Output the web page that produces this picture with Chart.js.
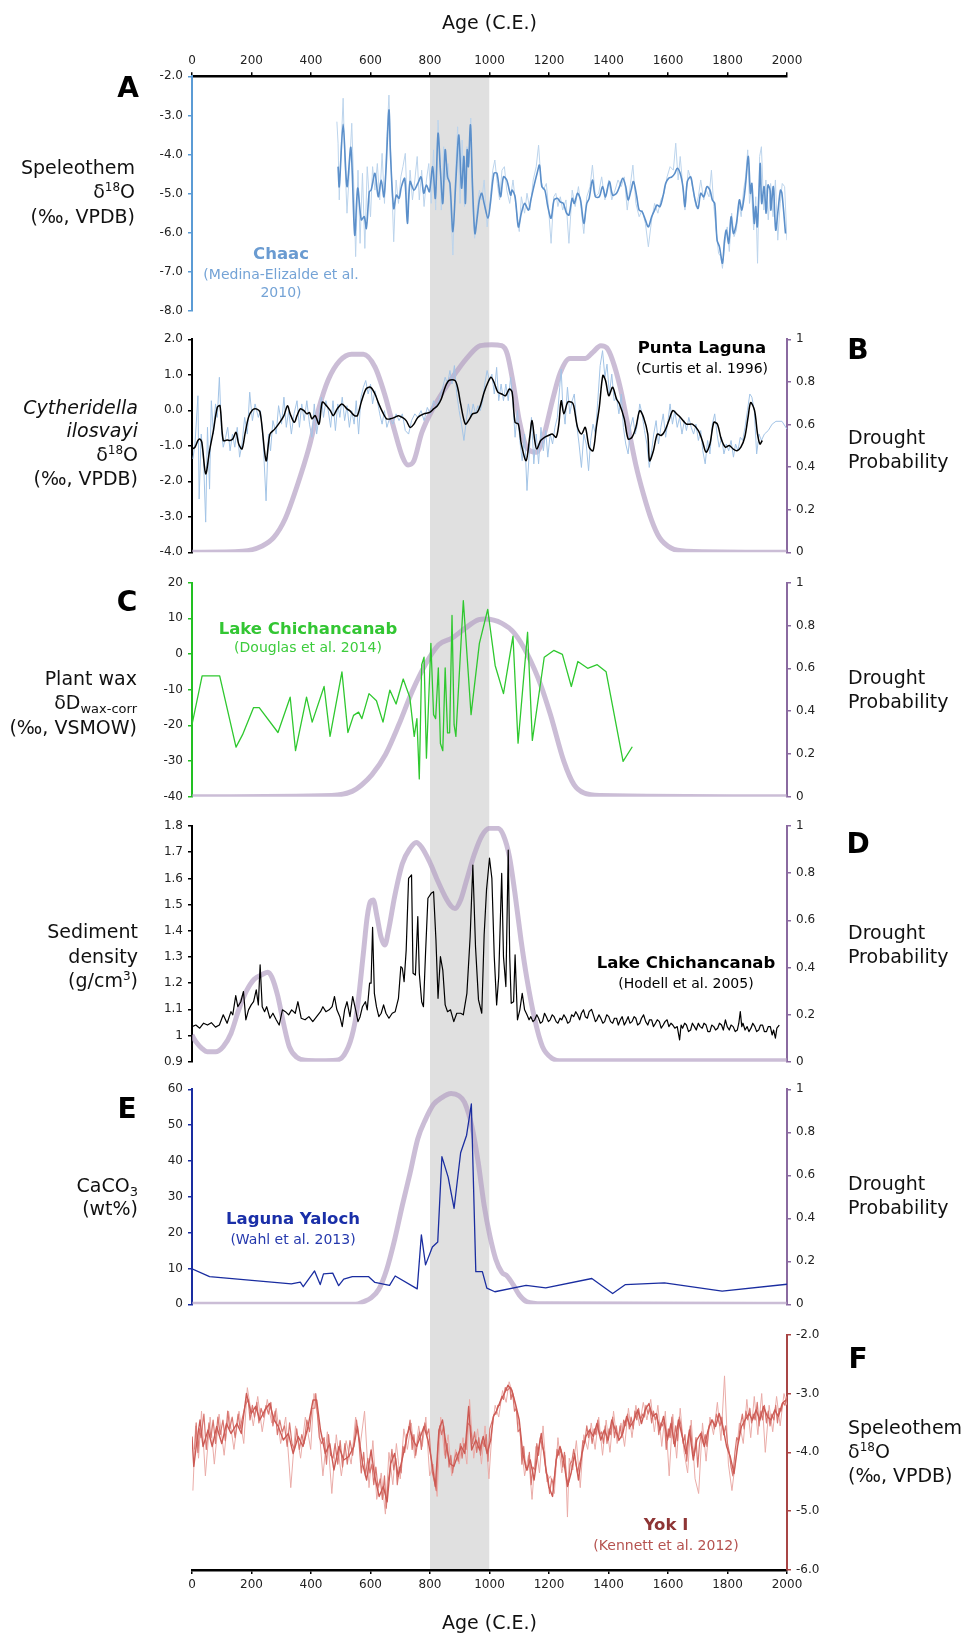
<!DOCTYPE html>
<html><head><meta charset="utf-8">
<script src="https://cdn.jsdelivr.net/npm/chart.js@4/dist/chart.umd.min.js"></script>
<style>
html,body{margin:0;padding:0;background:#fff;}
body{width:966px;height:1634px;position:relative;overflow:hidden;font-family:"DejaVu Sans",sans-serif;}
canvas{position:absolute;left:0;}
.t{position:absolute;white-space:nowrap;line-height:1;}
.t sup{font-size:12px;vertical-align:7px;line-height:0;}
.t sub{font-size:13px;vertical-align:-4px;line-height:0;}
</style></head><body>
<canvas id="bg"></canvas>
<canvas id="cA"></canvas>
<canvas id="cB"></canvas>
<canvas id="cC"></canvas>
<canvas id="cD"></canvas>
<canvas id="cE"></canvas>
<canvas id="cF"></canvas>
<script>
// ---------------- DATA ----------------
const ageMin = 0, ageMax = 2000, ageStep = 200;
const shadeYears = [800, 1000];

// A: Chaac speleothem d18O
const chaacYears = [491,495,508,521,534,547,557,569,579,586,596,602,615,626,636,645,652,662,667,678,687,696,704,715,724,733,746,759,770,779,788,798,809,818,827,835,843,851,859,867,877,887,897,906,914,919,925,929,936,943,951,959,966,974,982,995,1003,1015,1025,1037,1047,1058,1071,1076,1086,1097,1107,1118,1131,1139,1149,1160,1168,1176,1186,1196,1207,1217,1228,1238,1248,1259,1267,1278,1285,1296,1306,1317,1327,1335,1346,1356,1369,1380,1390,1403,1414,1427,1437,1448,1458,1466,1476,1484,1495,1503,1513,1524,1534,1545,1555,1563,1573,1584,1592,1602,1613,1623,1631,1641,1650,1657,1665,1676,1683,1691,1701,1710,1720,1731,1741,1749,1757,1765,1773,1783,1790,1796,1804,1812,1820,1830,1840,1848,1856,1861,1870,1877,1882,1890,1895,1900,1906,1910,1915,1923,1930,1936,1943,1946,1954,1962,1970,1978,1983,1995];
const chaacSmooth = [-4.31,-4.82,-3.23,-4.82,-3.82,-6.06,-4.86,-5.67,-5.59,-5.89,-4.95,-4.91,-4.48,-5.08,-4.65,-5.08,-4.40,-2.86,-3.97,-5.38,-5.04,-5.12,-4.82,-4.61,-5.76,-4.69,-4.91,-4.74,-4.57,-4.99,-4.78,-4.95,-4.31,-5.12,-3.46,-4.40,-5.25,-3.88,-4.57,-4.74,-5.97,-4.65,-3.50,-4.86,-4.05,-5.25,-3.88,-4.31,-3.24,-4.82,-6.02,-5.59,-5.16,-4.99,-5.25,-5.63,-5.25,-4.48,-4.48,-5.08,-4.57,-4.65,-5.04,-4.91,-5.08,-5.85,-5.50,-5.25,-5.42,-5.16,-4.82,-4.48,-4.27,-4.82,-4.91,-5.33,-5.63,-5.16,-5.12,-5.21,-5.25,-5.50,-5.55,-5.12,-5.25,-4.99,-5.16,-5.76,-5.25,-5.12,-4.65,-5.08,-5.08,-4.82,-5.08,-4.69,-5.04,-4.99,-4.82,-4.61,-4.82,-5.16,-4.91,-4.69,-5.08,-5.42,-5.46,-5.67,-5.85,-5.59,-5.42,-5.29,-5.33,-5.04,-4.74,-4.61,-4.57,-4.48,-4.35,-4.48,-4.82,-5.33,-4.69,-4.57,-4.82,-5.16,-5.38,-4.99,-5.08,-4.82,-4.91,-5.16,-5.25,-6.19,-6.36,-6.78,-6.19,-5.93,-6.27,-5.59,-6.02,-5.76,-5.16,-5.42,-5.08,-4.74,-4.05,-4.99,-4.74,-5.76,-5.33,-5.85,-4.91,-4.23,-5.25,-4.82,-5.50,-4.78,-4.91,-5.42,-4.82,-5.93,-5.42,-4.91,-4.99,-6.02];
const chaacRaw = [[487,-3.16],[491,-3.71],[495,-5.16],[500,-4.05],[508,-2.56],[513,-3.97],[521,-5.50],[529,-4.40],[537,-3.20],[545,-5.08],[550,-6.61],[558,-4.40],[565,-6.27],[573,-4.48],[581,-6.40],[589,-4.31],[600,-5.59],[607,-4.31],[615,-4.91],[623,-4.23],[631,-5.16],[639,-3.97],[647,-5.25],[655,-3.54],[662,-2.48],[670,-4.40],[678,-6.23],[686,-4.65],[694,-5.25],[702,-4.57],[709,-4.31],[717,-3.97],[725,-5.59],[733,-4.40],[741,-5.16],[749,-4.65],[757,-4.05],[764,-5.16],[772,-4.40],[780,-5.33],[788,-4.65],[796,-4.23],[804,-5.25],[812,-3.88],[819,-5.42],[827,-3.12],[833,-3.97],[838,-5.42],[846,-3.80],[853,-4.65],[861,-4.23],[869,-5.25],[877,-6.57],[885,-4.57],[893,-3.29],[901,-5.25],[908,-3.63],[916,-5.33],[924,-3.80],[932,-4.23],[937,-3.07],[942,-5.08],[950,-6.14],[958,-5.42],[966,-4.91],[974,-5.16],[982,-4.65],[992,-5.85],[1003,-5.08],[1011,-4.40],[1018,-4.14],[1026,-4.74],[1034,-5.16],[1042,-4.40],[1050,-4.31],[1058,-4.91],[1068,-5.25],[1079,-4.65],[1089,-5.33],[1100,-5.97],[1107,-5.08],[1118,-5.50],[1126,-4.99],[1136,-5.42],[1147,-4.65],[1157,-4.31],[1165,-3.76],[1173,-4.65],[1181,-4.91],[1191,-4.74],[1199,-5.42],[1207,-6.27],[1216,-5.08],[1223,-4.99],[1230,-5.33],[1238,-5.08],[1246,-5.42],[1257,-5.16],[1267,-6.27],[1278,-4.91],[1288,-5.33],[1299,-4.82],[1306,-5.25],[1317,-6.02],[1327,-5.08],[1338,-4.82],[1346,-4.27],[1356,-5.08],[1367,-4.99],[1377,-4.57],[1388,-5.16],[1401,-4.65],[1411,-5.16],[1422,-4.91],[1432,-4.65],[1443,-4.82],[1453,-4.57],[1463,-5.42],[1474,-4.74],[1482,-4.27],[1492,-5.25],[1503,-5.59],[1513,-5.42],[1524,-5.76],[1534,-6.36],[1545,-5.67],[1555,-5.25],[1566,-5.50],[1576,-5.16],[1587,-4.99],[1597,-4.57],[1607,-4.31],[1618,-4.40],[1626,-3.71],[1634,-4.65],[1641,-4.05],[1649,-4.74],[1657,-5.42],[1668,-4.40],[1678,-4.65],[1686,-4.99],[1694,-5.33],[1702,-5.08],[1710,-4.65],[1720,-5.16],[1728,-4.91],[1738,-5.08],[1746,-4.40],[1754,-5.33],[1762,-5.93],[1770,-6.53],[1778,-6.61],[1783,-6.91],[1791,-6.27],[1799,-5.85],[1806,-6.48],[1814,-5.50],[1822,-6.10],[1830,-5.93],[1838,-5.25],[1846,-5.59],[1854,-4.91],[1861,-4.57],[1868,-3.88],[1874,-5.25],[1880,-4.82],[1888,-5.93],[1895,-5.08],[1901,-6.78],[1908,-4.05],[1914,-3.80],[1922,-5.42],[1929,-4.65],[1937,-5.67],[1945,-4.74],[1953,-5.59],[1961,-4.65],[1969,-6.19],[1977,-5.25],[1984,-4.74],[1992,-4.82],[2000,-6.19]];

// B: Punta Laguna ostracod d18O + drought probability
const puntaSmooth = [[0,-1.09],[10,-1.04],[20,-0.85],[26,-0.81],[33,-0.90],[46,-1.79],[59,-1.14],[72,-0.57],[85,0.08],[94,0.13],[105,-0.85],[118,-0.84],[128,-0.85],[137,-0.81],[148,-0.62],[157,-0.95],[168,-1.09],[178,-0.67],[190,-0.20],[203,0.01],[216,0.04],[229,-0.06],[249,-1.42],[262,-0.67],[278,-0.53],[295,-0.34],[309,-0.15],[321,0.13],[330,-0.10],[344,-0.34],[353,-0.15],[364,0.04],[376,-0.01],[386,-0.10],[395,-0.06],[403,-0.24],[414,-0.15],[427,-0.39],[438,0.23],[452,0.13],[465,-0.01],[475,-0.15],[488,0.04],[504,0.18],[521,0.04],[530,-0.01],[546,-0.15],[556,-0.15],[569,0.23],[585,0.60],[600,0.65],[615,0.46],[628,0.18],[641,-0.06],[654,-0.24],[667,-0.24],[681,-0.20],[694,-0.15],[707,-0.20],[720,-0.29],[733,-0.48],[746,-0.39],[759,-0.20],[779,-0.10],[799,-0.06],[812,0.04],[825,0.13],[838,0.32],[851,0.65],[864,0.84],[884,0.84],[894,0.60],[903,0.18],[919,-0.39],[933,-0.24],[943,-0.10],[958,-0.06],[969,0.13],[982,0.51],[995,0.79],[1005,0.93],[1015,0.79],[1028,0.51],[1041,0.46],[1054,0.41],[1067,0.60],[1076,0.51],[1086,-0.34],[1097,-0.39],[1107,-0.95],[1123,-1.42],[1135,-0.76],[1143,-0.29],[1152,-0.85],[1159,-1.09],[1172,-0.85],[1185,-0.76],[1198,-0.71],[1211,-0.67],[1224,-0.76],[1233,-0.39],[1241,0.27],[1250,-0.10],[1263,0.23],[1276,0.23],[1283,0.13],[1296,-0.48],[1309,-0.67],[1322,-0.48],[1335,-1.04],[1348,-1.14],[1359,-0.48],[1369,0.08],[1381,0.98],[1390,0.84],[1401,0.41],[1414,0.65],[1427,0.32],[1437,0.18],[1453,-0.24],[1466,-0.81],[1479,-0.76],[1492,-0.48],[1505,-0.01],[1518,-0.20],[1532,-0.67],[1538,-1.42],[1551,-1.14],[1564,-0.67],[1577,-0.71],[1590,-0.57],[1603,-0.29],[1616,-0.01],[1629,-0.10],[1642,-0.20],[1662,-0.39],[1682,-0.39],[1702,-0.57],[1715,-0.85],[1728,-1.18],[1741,-0.95],[1754,-0.34],[1766,-0.39],[1779,-0.81],[1793,-1.04],[1806,-0.99],[1819,-1.09],[1832,-1.14],[1845,-1.04],[1858,-0.76],[1869,-0.20],[1878,0.22],[1891,-0.01],[1901,-0.67],[1909,-0.95],[1917,-0.85]];
const puntaRaw = [[3,-1.37],[10,-0.95],[20,0.41],[24,-2.50],[31,-0.67],[39,-1.42],[46,-3.15],[52,-0.48],[59,-2.22],[65,0.27],[72,-0.67],[79,0.18],[85,-0.20],[92,0.93],[99,-0.57],[105,-1.04],[113,-0.76],[120,-0.48],[128,-1.14],[136,-0.67],[144,-1.04],[152,-0.48],[160,-1.32],[168,-0.95],[177,-0.20],[186,-0.67],[194,0.51],[203,-0.29],[212,0.18],[223,-0.20],[230,-0.01],[238,-0.67],[249,-2.55],[257,-0.67],[264,-1.14],[272,-0.29],[283,-0.67],[291,0.13],[301,-0.39],[309,0.37],[317,-0.48],[325,-0.01],[334,-0.67],[343,-0.10],[353,0.27],[361,-0.48],[369,0.18],[377,-0.29],[386,0.27],[395,-0.39],[403,-0.76],[411,0.18],[419,-0.67],[427,-0.20],[435,0.37],[442,-0.20],[450,0.27],[458,-0.01],[466,-0.48],[474,0.27],[482,-0.57],[490,0.18],[497,-0.20],[505,0.37],[513,-0.29],[521,0.13],[529,-0.48],[537,-0.01],[545,-0.39],[552,0.27],[560,-0.67],[568,0.37],[576,0.65],[584,0.84],[592,0.46],[600,0.74],[607,0.18],[615,0.55],[623,0.27],[631,-0.10],[639,-0.39],[647,-0.01],[655,-0.48],[665,-0.20],[675,-0.39],[686,-0.10],[696,-0.29],[707,-0.10],[717,-0.57],[728,-0.67],[738,-0.29],[749,-0.10],[759,-0.20],[770,-0.01],[780,-0.29],[791,0.08],[801,-0.10],[812,0.27],[822,0.08],[833,0.37],[843,0.65],[851,0.93],[859,0.74],[867,1.12],[874,0.74],[882,1.26],[890,0.46],[898,-0.01],[906,-0.39],[914,-0.85],[922,-0.29],[929,0.18],[937,-0.20],[945,0.18],[953,-0.10],[961,0.13],[969,-0.01],[977,0.27],[984,0.74],[992,1.12],[1000,0.84],[1008,1.02],[1016,0.46],[1024,1.21],[1031,0.27],[1039,0.74],[1047,0.27],[1055,0.74],[1063,0.27],[1071,0.93],[1079,0.18],[1086,-0.76],[1094,-0.01],[1102,-0.85],[1110,-1.42],[1118,-0.67],[1126,-2.26],[1134,-1.14],[1141,-0.20],[1149,-1.51],[1157,-0.67],[1165,-1.51],[1173,-0.48],[1181,-1.14],[1189,-0.57],[1196,-1.32],[1204,-0.67],[1212,-0.95],[1220,-0.48],[1228,-0.20],[1236,0.65],[1241,1.16],[1246,0.18],[1254,-0.39],[1262,0.65],[1270,-0.10],[1278,0.27],[1285,0.46],[1293,-0.39],[1301,-0.95],[1309,-1.61],[1317,-0.67],[1325,-0.95],[1333,-1.70],[1340,-0.85],[1348,-0.39],[1356,-0.67],[1364,0.27],[1372,1.26],[1380,1.68],[1388,0.93],[1395,1.30],[1403,0.46],[1411,1.02],[1419,0.27],[1427,0.37],[1435,-0.10],[1443,0.46],[1450,-0.48],[1458,-0.95],[1466,-1.23],[1474,-0.48],[1482,-0.20],[1490,-0.67],[1497,-0.39],[1505,0.18],[1513,-0.10],[1521,-0.57],[1529,-0.95],[1537,-1.61],[1545,-1.14],[1552,-0.67],[1560,-0.29],[1568,-0.95],[1576,-0.48],[1584,-0.10],[1592,-0.76],[1600,-0.29],[1607,0.18],[1615,-0.39],[1623,-0.01],[1631,-0.48],[1639,-0.20],[1647,-0.67],[1655,-0.29],[1662,-0.57],[1670,-0.20],[1678,-0.48],[1686,-0.67],[1694,-0.39],[1702,-0.85],[1710,-0.57],[1717,-1.14],[1725,-1.51],[1733,-0.85],[1741,-1.23],[1749,-0.39],[1757,-0.10],[1765,-0.67],[1772,-1.04],[1780,-0.76],[1788,-1.23],[1796,-0.95],[1804,-1.14],[1812,-0.85],[1820,-1.32],[1827,-0.95],[1835,-1.14],[1843,-0.76],[1851,-0.85],[1859,-0.48],[1867,-0.01],[1875,0.46],[1882,0.37],[1890,-0.01],[1898,-1.23],[1906,-0.67],[1914,-0.85],[1924,-0.67],[1937,-0.57],[1950,-0.39],[1963,-0.31],[1983,-0.31],[2000,-0.53]];
const droughtB = [[0,0],[170,0.005],[236,0.03],[275,0.07],[314,0.16],[353,0.31],[393,0.49],[425,0.67],[458,0.81],[497,0.90],[537,0.93],[576,0.93],[615,0.87],[648,0.74],[681,0.57],[707,0.45],[726,0.41],[746,0.43],[772,0.56],[812,0.68],[851,0.77],[890,0.85],[929,0.92],[969,0.97],[1008,0.975],[1041,0.97],[1060,0.93],[1080,0.79],[1100,0.62],[1126,0.49],[1158,0.47],[1185,0.56],[1211,0.71],[1237,0.84],[1270,0.91],[1322,0.91],[1348,0.94],[1374,0.97],[1394,0.96],[1414,0.90],[1440,0.77],[1466,0.59],[1492,0.41],[1518,0.27],[1545,0.15],[1571,0.07],[1610,0.02],[1662,0.005],[2000,0]];

// C: Lake Chichancanab plant wax dD
const waxDD = [[0,-19.8],[34,-6.1],[93,-6.1],[148,-26.1],[170,-22.6],[207,-15.0],[226,-15.0],[289,-22.0],[330,-12.1],[348,-27.1],[385,-12.1],[404,-19.1],[444,-9.1],[464,-23.1],[504,-5.0],[524,-22.0],[543,-17.2],[560,-16.3],[571,-18.1],[595,-11.1],[620,-13.1],[642,-19.1],[665,-10.1],[686,-14.0],[710,-7.0],[732,-12.1],[747,-23.1],[756,-18.1],[764,-35.0],[772,-3.0],[780,-0.9],[788,-29.2],[803,3.0],[812,-17.0],[819,-18.1],[828,-3.9],[835,-25.1],[843,-27.1],[851,-3.9],[859,-22.1],[866,-22.1],[874,10.8],[881,-19.8],[887,-23.1],[912,15.0],[938,-17.0],[966,3.0],[994,12.5],[1019,-3.2],[1047,-11.1],[1079,5.0],[1096,-25.0],[1128,6.1],[1144,-24.2],[1184,-0.9],[1216,1.0],[1245,-0.1],[1275,-9.1],[1297,-2.1],[1330,-4.0],[1362,-3.0],[1392,-5.0],[1449,-30.1],[1480,-26.0]];
const droughtC = [[0,0],[470,0.006],[538,0.025],[571,0.056],[605,0.103],[650,0.196],[695,0.336],[740,0.492],[784,0.617],[829,0.71],[874,0.741],[919,0.788],[964,0.827],[986,0.83],[1042,0.81],[1083,0.765],[1128,0.664],[1172,0.523],[1205,0.383],[1250,0.165],[1284,0.056],[1318,0.017],[1374,0.006],[2000,0]];

// D: Lake Chichancanab sediment density
const density = [[0,1.034],[13,1.040],[26,1.028],[39,1.047],[52,1.040],[65,1.049],[79,1.032],[92,1.040],[105,1.079],[118,1.047],[131,1.091],[137,1.079],[147,1.152],[154,1.110],[164,1.129],[173,1.168],[181,1.060],[190,1.098],[199,1.117],[207,1.129],[216,1.174],[223,1.117],[229,1.270],[236,1.110],[244,1.091],[251,1.110],[262,1.066],[272,1.085],[283,1.060],[293,1.040],[304,1.098],[314,1.091],[325,1.079],[335,1.098],[347,1.085],[356,1.129],[367,1.066],[380,1.060],[393,1.072],[406,1.053],[419,1.072],[432,1.091],[440,1.110],[450,1.091],[461,1.098],[471,1.110],[479,1.149],[487,1.098],[497,1.072],[505,1.034],[513,1.098],[521,1.129],[531,1.072],[540,1.149],[550,1.098],[558,1.053],[565,1.072],[573,1.110],[583,1.129],[589,1.098],[597,1.200],[602,1.200],[607,1.413],[613,1.161],[620,1.110],[628,1.072],[636,1.085],[644,1.117],[652,1.085],[662,1.066],[673,1.085],[683,1.091],[694,1.142],[702,1.263],[707,1.257],[713,1.206],[720,1.327],[728,1.600],[733,1.607],[738,1.613],[743,1.238],[751,1.231],[759,1.454],[764,1.238],[772,1.129],[778,1.110],[785,1.314],[793,1.524],[804,1.543],[812,1.549],[820,1.365],[827,1.142],[835,1.301],[843,1.250],[851,1.117],[859,1.091],[869,1.098],[880,1.053],[890,1.085],[903,1.085],[912,1.079],[924,1.161],[935,1.378],[944,1.651],[953,1.339],[963,1.136],[974,1.085],[982,1.384],[990,1.556],[1000,1.677],[1008,1.600],[1016,1.301],[1024,1.117],[1031,1.225],[1041,1.619],[1047,1.301],[1055,1.187],[1063,1.708],[1068,1.301],[1073,1.123],[1081,1.129],[1086,1.308],[1094,1.060],[1102,1.098],[1110,1.161],[1118,1.098],[1126,1.079],[1133,1.060],[1139,1.072],[1146,1.053],[1152,1.060],[1159,1.079],[1165,1.066],[1171,1.047],[1178,1.053],[1185,1.085],[1191,1.072],[1198,1.053],[1204,1.060],[1211,1.079],[1217,1.072],[1224,1.053],[1230,1.047],[1237,1.066],[1243,1.060],[1250,1.079],[1257,1.066],[1263,1.047],[1270,1.053],[1276,1.079],[1283,1.072],[1290,1.091],[1296,1.079],[1303,1.060],[1309,1.085],[1316,1.098],[1322,1.072],[1329,1.066],[1335,1.091],[1343,1.100],[1351,1.072],[1356,1.053],[1361,1.060],[1368,1.079],[1374,1.066],[1381,1.047],[1387,1.053],[1394,1.079],[1401,1.072],[1407,1.053],[1414,1.047],[1420,1.066],[1427,1.066],[1433,1.040],[1440,1.060],[1446,1.072],[1453,1.040],[1459,1.053],[1466,1.072],[1472,1.047],[1479,1.053],[1486,1.072],[1492,1.066],[1498,1.040],[1505,1.047],[1511,1.066],[1518,1.079],[1525,1.053],[1532,1.040],[1538,1.060],[1545,1.060],[1551,1.034],[1558,1.047],[1564,1.060],[1571,1.053],[1577,1.028],[1584,1.040],[1590,1.053],[1597,1.060],[1603,1.034],[1610,1.047],[1616,1.040],[1623,1.028],[1631,1.034],[1639,0.983],[1644,1.040],[1649,1.028],[1656,1.047],[1662,1.040],[1669,1.015],[1676,1.021],[1682,1.047],[1689,1.034],[1695,1.021],[1702,1.047],[1708,1.034],[1715,1.028],[1721,1.047],[1728,1.040],[1734,1.015],[1741,1.015],[1747,1.040],[1754,1.034],[1760,1.021],[1767,1.028],[1773,1.047],[1780,1.040],[1786,1.021],[1793,1.060],[1799,1.034],[1806,1.021],[1812,1.040],[1819,1.034],[1826,1.015],[1833,1.021],[1838,1.047],[1843,1.091],[1848,1.034],[1852,1.047],[1859,1.021],[1866,1.034],[1872,1.015],[1879,1.028],[1885,1.047],[1892,1.034],[1898,1.015],[1905,1.021],[1911,1.040],[1918,1.040],[1924,1.015],[1931,1.015],[1937,1.034],[1944,1.034],[1950,1.002],[1955,1.021],[1961,0.990],[1966,1.028],[1974,1.040]];
const droughtD = [[0,0.113],[13,0.085],[33,0.057],[52,0.042],[79,0.042],[105,0.064],[131,0.12],[157,0.22],[183,0.30],[209,0.35],[236,0.37],[255,0.38],[268,0.36],[288,0.28],[308,0.16],[327,0.064],[353,0.018],[380,0.006],[432,0.004],[484,0.006],[511,0.028],[537,0.106],[556,0.23],[576,0.46],[589,0.615],[600,0.68],[609,0.686],[622,0.615],[635,0.53],[648,0.495],[661,0.56],[681,0.70],[707,0.84],[733,0.905],[754,0.93],[772,0.91],[798,0.85],[825,0.77],[851,0.70],[871,0.66],[884,0.65],[903,0.686],[923,0.77],[949,0.88],[975,0.96],[1001,0.99],[1028,0.99],[1047,0.96],[1067,0.87],[1086,0.71],[1106,0.516],[1126,0.35],[1152,0.18],[1178,0.064],[1211,0.014],[1243,0.004],[2000,0.004]];

// E: Laguna Yaloch CaCO3
const caco3 = [[0,9.9],[59,7.7],[334,5.7],[364,6.2],[374,4.9],[412,9.3],[431,5.5],[442,8.5],[473,8.7],[493,5.2],[510,7.0],[539,7.7],[594,7.7],[615,6.1],[664,5.3],[683,7.9],[757,4.3],[771,19.4],[785,11.0],[808,16.0],[826,17.4],[840,41.2],[861,35.5],[881,26.8],[903,42.3],[923,47.2],[939,55.9],[954,9.1],[976,9.1],[991,4.5],[1018,3.5],[1123,5.3],[1189,4.6],[1344,7.2],[1414,3.0],[1457,5.5],[1588,6.0],[1782,3.7],[2000,5.6]];
const droughtE = [[0,0],[550,0],[576,0.012],[602,0.03],[628,0.07],[654,0.16],[681,0.30],[707,0.46],[733,0.61],[759,0.77],[785,0.86],[812,0.93],[838,0.96],[871,0.98],[897,0.97],[916,0.94],[942,0.82],[962,0.66],[982,0.46],[1001,0.32],[1021,0.21],[1041,0.15],[1060,0.13],[1080,0.09],[1100,0.044],[1126,0.012],[1178,0.003],[2000,0]];

// F: Yok I speleothem d18O
const yokYears = [0,6,17,27,37,54,68,83,100,116,131,151,166,183,199,214,228,245,261,276,290,307,324,340,357,373,390,407,419,432,448,463,477,494,510,527,544,556,573,587,602,614,629,643,656,668,681,693,706,718,730,743,755,768,780,793,805,818,830,842,855,867,880,892,905,917,930,940,954,967,979,992,1004,1013,1025,1038,1050,1062,1075,1087,1100,1112,1125,1137,1150,1162,1174,1187,1199,1212,1224,1237,1249,1262,1274,1286,1299,1311,1324,1336,1349,1361,1374,1386,1399,1411,1423,1436,1448,1461,1473,1486,1498,1511,1523,1536,1548,1560,1573,1585,1598,1610,1623,1635,1648,1660,1672,1685,1697,1710,1722,1735,1747,1760,1772,1784,1797,1809,1822,1834,1847,1859,1872,1884,1896,1909,1921,1934,1946,1959,1971,1984,1996];
const yokValues = [-3.73,-4.24,-3.79,-3.45,-3.90,-3.62,-3.90,-3.56,-3.85,-3.51,-3.68,-3.51,-3.68,-3.00,-3.34,-3.22,-3.45,-3.28,-3.17,-3.45,-3.56,-3.79,-3.68,-4.02,-3.73,-3.90,-3.56,-3.11,-3.11,-3.62,-4.02,-3.85,-4.30,-3.90,-4.13,-4.07,-3.90,-3.56,-4.19,-4.47,-3.96,-4.41,-4.75,-4.58,-4.84,-4.19,-4.02,-4.41,-4.13,-3.85,-3.56,-3.79,-3.90,-3.73,-3.56,-3.79,-4.13,-4.58,-3.62,-3.45,-3.90,-4.19,-4.24,-4.07,-3.90,-4.02,-3.22,-3.96,-3.79,-3.96,-3.73,-4.02,-3.79,-3.39,-3.28,-3.11,-3.00,-2.86,-2.94,-3.17,-3.45,-4.02,-4.30,-4.13,-4.47,-4.02,-3.68,-4.19,-4.58,-4.75,-4.13,-3.90,-4.13,-4.58,-4.36,-4.02,-4.47,-4.02,-3.73,-3.62,-3.73,-3.51,-3.79,-3.62,-3.79,-3.45,-3.62,-3.79,-3.68,-3.39,-3.56,-3.45,-3.28,-3.51,-3.28,-3.17,-3.39,-3.34,-3.62,-3.39,-3.79,-3.51,-3.90,-3.45,-3.73,-4.02,-3.62,-4.13,-3.79,-3.68,-3.90,-3.62,-3.45,-3.56,-3.34,-3.56,-3.90,-4.07,-4.36,-3.90,-3.56,-3.45,-3.34,-3.45,-3.28,-3.45,-3.22,-3.39,-3.45,-3.28,-3.39,-3.17,-3.11];
const yokDense = [[9,-3.95],[14,-3.50],[20,-4.00],[25,-3.60],[30,-3.75],[40,-3.35],[48,-3.95],[57,-3.50],[64,-3.75],[71,-3.45],[79,-3.85],[87,-3.40],[95,-3.70],[104,-3.45],[112,-3.80],[120,-3.30],[127,-3.60],[135,-3.40],[145,-3.75],[155,-3.35],[162,-3.60],[170,-3.40],[179,-3.20],[189,-3.10],[195,-3.45],[203,-3.20],[210,-3.40],[218,-3.15],[225,-3.50],[232,-3.25],[241,-3.40],[249,-3.20],[257,-3.35],[265,-3.15],[272,-3.55],[280,-3.30],[287,-3.70],[295,-3.45],[303,-3.65],[311,-3.55],[320,-3.90],[328,-3.50],[336,-3.85],[344,-3.95],[352,-3.60],[361,-3.95],[369,-3.70],[377,-3.85],[386,-3.45],[395,-3.65],[403,-3.25],[413,-3.25],[416,-3.00],[428,-3.75],[436,-3.85],[444,-3.75],[452,-4.20],[459,-3.70],[466,-4.05],[474,-4.10],[481,-3.85],[490,-4.20],[498,-3.80],[506,-4.25],[514,-3.85],[522,-4.20],[531,-3.80],[540,-4.05],[548,-3.70],[553,-3.45],[561,-3.80],[569,-4.35],[577,-4.00],[583,-4.40],[591,-4.10],[598,-4.35],[605,-4.20],[611,-4.55],[618,-4.25],[625,-4.60],[633,-4.45],[640,-4.80],[647,-4.40],[653,-4.95],[659,-4.50],[665,-4.30],[672,-3.95],[678,-4.30],[685,-4.10],[690,-4.55],[697,-4.25],[703,-4.35],[709,-3.90],[715,-4.00],[721,-3.70],[727,-3.65],[733,-3.45],[740,-3.95],[746,-3.70],[752,-4.05],[759,-3.80],[765,-3.65],[771,-3.95],[777,-3.65],[783,-3.50],[790,-3.70],[796,-3.60],[802,-4.00],[808,-4.35],[815,-4.50],[821,-4.65],[827,-3.90],[833,-3.55],[839,-3.70],[846,-3.55],[852,-4.10],[858,-3.85],[864,-4.25],[870,-4.05],[876,-4.35],[883,-4.10],[889,-4.00],[895,-4.15],[902,-3.85],[908,-4.10],[914,-3.85],[921,-3.95],[927,-3.50],[936,-3.55],[943,-3.85],[950,-3.65],[957,-4.00],[964,-3.75],[970,-4.05],[976,-3.80],[983,-3.90],[989,-3.70],[995,-4.15],[1001,-3.60],[1007,-3.50],[1016,-3.35],[1022,-3.35],[1028,-3.20],[1034,-3.20],[1041,-3.05],[1047,-3.10],[1053,-2.90],[1059,-2.95],[1069,-2.90],[1072,-3.10],[1078,-3.00],[1084,-3.30],[1090,-3.25],[1096,-3.65],[1103,-3.60],[1109,-4.20],[1115,-3.90],[1121,-4.25],[1128,-4.30],[1134,-4.00],[1140,-4.55],[1146,-4.25],[1153,-4.30],[1159,-3.85],[1165,-4.05],[1171,-3.75],[1177,-3.90],[1184,-4.00],[1190,-4.35],[1196,-4.40],[1202,-4.70],[1209,-4.45],[1215,-4.55],[1221,-4.30],[1227,-3.95],[1233,-4.05],[1240,-3.95],[1246,-4.25],[1252,-4.00],[1258,-4.40],[1265,-4.55],[1271,-4.20],[1277,-4.15],[1283,-3.95],[1289,-4.15],[1296,-4.35],[1302,-4.20],[1308,-4.10],[1314,-3.80],[1320,-3.85],[1327,-3.55],[1333,-3.75],[1339,-3.60],[1345,-3.85],[1352,-3.60],[1358,-3.70],[1364,-3.45],[1370,-3.70],[1377,-3.65],[1383,-3.85],[1389,-3.55],[1395,-3.85],[1402,-3.60],[1408,-3.70],[1414,-3.40],[1420,-3.75],[1426,-3.55],[1433,-3.80],[1439,-3.55],[1445,-3.75],[1451,-3.45],[1458,-3.55],[1464,-3.35],[1470,-3.60],[1476,-3.40],[1483,-3.60],[1489,-3.30],[1495,-3.45],[1501,-3.25],[1508,-3.45],[1514,-3.35],[1520,-3.40],[1526,-3.20],[1533,-3.35],[1539,-3.25],[1545,-3.50],[1551,-3.30],[1557,-3.45],[1563,-3.35],[1569,-3.70],[1576,-3.50],[1582,-3.55],[1588,-3.45],[1594,-3.95],[1601,-3.60],[1607,-3.75],[1613,-3.40],[1619,-3.85],[1626,-3.55],[1632,-3.80],[1638,-3.40],[1644,-3.55],[1651,-3.85],[1657,-3.70],[1663,-4.15],[1669,-3.80],[1675,-3.55],[1681,-3.90],[1688,-4.05],[1694,-3.75],[1700,-4.25],[1706,-3.85],[1713,-3.65],[1719,-3.85],[1725,-3.70],[1731,-3.90],[1738,-3.55],[1744,-3.50],[1750,-3.45],[1756,-3.60],[1763,-3.35],[1769,-3.45],[1775,-3.55],[1781,-3.40],[1787,-3.70],[1794,-3.55],[1800,-3.85],[1806,-4.00],[1812,-4.25],[1818,-4.40],[1825,-4.00],[1831,-3.75],[1837,-3.80],[1843,-3.55],[1850,-3.35],[1856,-3.60],[1862,-3.30],[1868,-3.45],[1875,-3.25],[1881,-3.50],[1887,-3.35],[1893,-3.45],[1900,-3.15],[1906,-3.55],[1912,-3.30],[1918,-3.45],[1924,-3.20],[1931,-3.50],[1937,-3.30],[1943,-3.55],[1949,-3.35],[1956,-3.45],[1962,-3.20],[1968,-3.50],[1974,-3.25],[1980,-3.30],[1987,-3.15],[1993,-3.20],[1999,-3.05]];
const yokRaw = [[3,-4.65],[12,-3.55],[22,-4.10],[32,-3.30],[45,-4.40],[61,-3.40],[75,-4.20],[91,-3.35],[108,-4.05],[123,-3.30],[141,-3.95],[158,-3.30],[174,-3.85],[186,-2.90],[206,-3.55],[221,-3.05],[236,-3.65],[253,-3.10],[268,-3.50],[283,-3.25],[298,-3.85],[315,-3.40],[332,-4.60],[348,-3.55],[365,-4.10],[381,-3.40],[399,-3.95],[410,-3.00],[425,-3.45],[440,-4.40],[455,-3.65],[470,-4.70],[485,-3.70],[502,-4.40],[518,-3.80],[535,-4.20],[550,-3.40],[565,-3.90],[580,-3.30],[595,-4.60],[608,-3.80],[621,-4.80],[636,-4.35],[650,-5.05],[662,-4.00],[675,-4.55],[687,-3.85],[700,-4.45],[712,-3.60],[724,-3.95],[737,-3.50],[749,-4.10],[762,-3.55],[774,-3.90],[786,-3.40],[799,-4.40],[811,-4.20],[824,-4.75],[836,-3.40],[849,-4.05],[861,-3.70],[873,-4.40],[886,-3.95],[898,-4.20],[911,-3.75],[924,-4.20],[933,-3.10],[947,-4.10],[960,-3.60],[973,-4.20],[985,-3.55],[998,-4.45],[1009,-3.60],[1019,-3.20],[1031,-3.40],[1044,-2.95],[1056,-3.15],[1066,-2.80],[1081,-3.05],[1093,-3.35],[1106,-3.80],[1118,-4.40],[1131,-4.05],[1143,-4.80],[1156,-3.90],[1168,-4.35],[1180,-3.55],[1193,-4.50],[1205,-4.40],[1218,-4.70],[1230,-3.75],[1243,-4.35],[1255,-4.05],[1262,-5.10],[1268,-4.10],[1280,-4.30],[1292,-3.80],[1305,-4.60],[1317,-3.70],[1330,-3.95],[1342,-3.50],[1355,-3.95],[1367,-3.40],[1380,-4.05],[1392,-3.45],[1405,-4.00],[1417,-3.30],[1429,-3.85],[1442,-3.50],[1454,-3.90],[1467,-3.25],[1479,-3.75],[1492,-3.20],[1504,-3.55],[1517,-3.15],[1529,-3.45],[1542,-3.10],[1554,-3.65],[1566,-3.20],[1579,-3.90],[1591,-3.30],[1604,-4.40],[1616,-3.35],[1629,-4.10],[1641,-3.25],[1654,-4.00],[1666,-4.35],[1678,-3.45],[1691,-4.45],[1703,-4.70],[1716,-3.50],[1728,-4.15],[1741,-3.40],[1753,-3.70],[1766,-3.15],[1778,-3.80],[1790,-2.70],[1803,-4.20],[1815,-4.65],[1828,-4.10],[1840,-3.50],[1853,-3.85],[1865,-3.10],[1878,-3.75],[1890,-3.05],[1902,-3.70],[1915,-3.00],[1927,-4.00],[1940,-3.20],[1952,-3.65],[1965,-3.05],[1977,-3.55],[1990,-3.00],[2000,-3.20]];

// ---------------- RENDER ----------------
Chart.defaults.font.family = "'DejaVu Sans', sans-serif";
Chart.defaults.animation = false;
Chart.defaults.plugins.legend.display = false;
Chart.defaults.plugins.tooltip.enabled = false;
Chart.defaults.elements.point.radius = 0;

const W = 966, LEFT = 192, RIGHT = 787;
const PROB_COLOR = '#8a6aa0';
const DROUGHT_COLOR = 'rgba(178,158,194,0.68)';
const TICK_COLOR = '#222';

const pts = a => a.map(p => ({x: p[0], y: p[1]}));
const zip = (xs, ys) => xs.map((x, i) => ({x, y: ys[i]}));
const fmt1 = v => v.toFixed(1);
const fmtG = v => String(Math.round(v * 10) / 10);

const xHidden = {type: 'linear', min: ageMin, max: ageMax, display: false};
function xAxis(pos, h) {
  return {type: 'linear', position: pos, min: ageMin, max: ageMax,
    ticks: {stepSize: ageStep, callback: v => String(v), color: TICK_COLOR, font: {size: 12}, padding: 4, maxRotation: 0, autoSkip: false},
    grid: {drawOnChartArea: false, drawTicks: true, tickLength: 4, color: '#000', lineWidth: 1.5},
    border: {display: true, color: '#000', width: 2.5},
    afterFit: s => { s.height = h; }};
}
function yAxis(pos, min, max, step, color, fmt, width) {
  return {type: 'linear', position: pos, min, max,
    ticks: {stepSize: step, callback: fmt, color: TICK_COLOR, font: {size: 12}, padding: 5, autoSkip: false},
    grid: {drawOnChartArea: false, drawTicks: true, tickLength: 4, color, lineWidth: 1.5},
    border: {display: true, color, width: 2},
    afterFit: s => { s.width = width; }};
}
function drought(data) {
  return {data: pts(data), yAxisID: 'y2', borderColor: DROUGHT_COLOR, borderWidth: 5, cubicInterpolationMode: 'monotone', order: 5};
}
function make(id, top, height, padding, scales, datasets) {
  const c = document.getElementById(id);
  c.width = W; c.height = height; c.style.top = top + 'px';
  c.style.width = W + 'px'; c.style.height = height + 'px';
  return new Chart(c, {type: 'line', data: {datasets},
    options: {responsive: false, devicePixelRatio: 1, animation: false, layout: {padding}, scales,
      elements: {line: {borderJoinStyle: 'round'}}}});
}

// background band (800-1000 C.E.)
make('bg', 0, 1634, {left: LEFT, right: W - RIGHT, top: 76.3, bottom: 64},
  {x: xHidden, y: {type: 'linear', min: 0, max: 1, display: false}},
  [{data: shadeYears.map(v => ({x: v, y: 1})), fill: 'origin', backgroundColor: '#e0e0e0', borderWidth: 0}]);

// A
make('cA', 0, 330, {left: 0, right: W - RIGHT, top: 0, bottom: 19},
  {x: xAxis('top', 76.3), y: yAxis('left', -8, -2, 1, '#5b9bd5', fmt1, LEFT)},
  [{data: pts(chaacRaw), borderColor: '#bcd4ec', borderWidth: 1, order: 2},
   {data: zip(chaacYears, chaacSmooth), borderColor: '#5b8fca', borderWidth: 1.6, tension: 0.3, order: 1}]);

// B
make('cB', 325, 240, {left: 0, right: 0, top: 14.3, bottom: 12.7},
  {x: xHidden, y: yAxis('left', -4, 2, 1, '#000', fmt1, LEFT), y2: yAxis('right', 0, 1, 0.2, PROB_COLOR, fmtG, W - RIGHT)},
  [{data: pts(puntaRaw), borderColor: '#a3c4e6', borderWidth: 1, order: 2},
   {data: pts(puntaSmooth), borderColor: '#000', borderWidth: 1.5, tension: 0.3, order: 1},
   drought(droughtB)]);

// C
make('cC', 568, 242, {left: 0, right: 0, top: 14.7, bottom: 13.3},
  {x: xHidden, y: yAxis('left', -40, 20, 10, '#22c022', v => String(v), LEFT), y2: yAxis('right', 0, 1, 0.2, PROB_COLOR, fmtG, W - RIGHT)},
  [{data: pts(waxDD), borderColor: '#2fc82f', borderWidth: 1.3, order: 1},
   drought(droughtC)]);

// D
make('cD', 812, 262, {left: 0, right: 0, top: 14, bottom: 12.3},
  {x: xHidden, y: yAxis('left', 0.9, 1.8, 0.1, '#000', fmtG, LEFT), y2: yAxis('right', 0, 1, 0.2, PROB_COLOR, fmtG, W - RIGHT)},
  [{data: pts(density), borderColor: '#000', borderWidth: 1.2, order: 1},
   drought(droughtD)]);

// E
make('cE', 1075, 243, {left: 0, right: 0, top: 14.3, bottom: 13.7},
  {x: xHidden, y: yAxis('left', 0, 60, 10, '#1a2da0', v => String(v), LEFT), y2: yAxis('right', 0, 1, 0.2, PROB_COLOR, fmtG, W - RIGHT)},
  [{data: pts(caco3), borderColor: '#1a2da0', borderWidth: 1.3, order: 1},
   drought(droughtE)]);

// F
make('cF', 1320, 314, {left: LEFT, right: 0, top: 14.7, bottom: 0},
  {x: xAxis('bottom', 64), y: yAxis('right', -6, -2, 1, '#a84545', fmt1, W - RIGHT)},
  [{data: pts(yokRaw), borderColor: '#eaaca8', borderWidth: 1, order: 3},
   {data: pts(yokDense), borderColor: '#d87670', borderWidth: 1.2, order: 2},
   {data: zip(yokYears, yokValues), borderColor: '#cc5a54', borderWidth: 1.4, order: 1}]);

// ---------------- TEXT ----------------
function label(html, x, y, align, css) {
  const d = document.createElement('div');
  d.className = 't';
  d.innerHTML = html;
  d.style.left = x + 'px';
  d.style.top = y + 'px';
  const tx = align === 'right' ? '-100%' : align === 'center' ? '-50%' : '0';
  d.style.transform = 'translate(' + tx + ',-50%)';
  d.style.cssText += css || '';
  document.body.appendChild(d);
}
const big = 'font-size:19px;color:#111;';
const letter = 'font-size:28px;font-weight:bold;color:#000;';
label('Age (C.E.)', 489.5, 21.7, 'center', big);
label('Age (C.E.)', 489.5, 1621.7, 'center', big);

label('A', 128, 88, 'center', letter);
label('B', 858, 350, 'center', letter);
label('C', 127, 602, 'center', letter);
label('D', 858, 844, 'center', letter);
label('E', 127, 1109, 'center', letter);
label('F', 858, 1359, 'center', letter);

// left side titles
label('Speleothem', 135, 167, 'right', big);
label('δ<sup>18</sup>O', 135, 191, 'right', big);
label('(‰, VPDB)', 135, 216, 'right', big);

label('<i>Cytheridella</i>', 138, 407, 'right', big);
label('<i>ilosvayi</i>', 138, 430, 'right', big);
label('δ<sup>18</sup>O', 138, 454, 'right', big);
label('(‰, VPDB)', 138, 478, 'right', big);

label('Plant wax', 137, 678, 'right', big);
label('δD<sub>wax-corr</sub>', 137, 702, 'right', big);
label('(‰, VSMOW)', 137, 727, 'right', big);

label('Sediment', 138, 931, 'right', big);
label('density', 138, 956, 'right', big);
label('(g/cm<sup>3</sup>)', 138, 980, 'right', big);

label('CaCO<sub>3</sub>', 138, 1185, 'right', big);
label('(wt%)', 138, 1208, 'right', big);

// right side titles
[[437, 461], [677, 701], [932, 956], [1183, 1207]].forEach(([a, b]) => {
  label('Drought', 848, a, 'left', big);
  label('Probability', 848, b, 'left', big);
});
label('Speleothem', 848, 1427, 'left', big);
label('δ<sup>18</sup>O', 848, 1451, 'left', big);
label('(‰, VPDB)', 848, 1475, 'left', big);

// record annotations
const nameCss = c => 'font-size:16.5px;font-weight:bold;color:' + c + ';';
const citeCss = c => 'font-size:14px;color:' + c + ';';
label('Chaac', 281, 254, 'center', nameCss('#6a9bd1'));
label('(Medina-Elizalde et al.', 281, 274, 'center', citeCss('#74a3d6'));
label('2010)', 281, 292, 'center', citeCss('#74a3d6'));

label('Punta Laguna', 702, 348, 'center', nameCss('#000'));
label('(Curtis et al. 1996)', 702, 368, 'center', citeCss('#000'));

label('Lake Chichancanab', 308, 629, 'center', nameCss('#33c633'));
label('(Douglas et al. 2014)', 308, 647, 'center', citeCss('#3ccc3c'));

label('Lake Chichancanab', 686, 963, 'center', nameCss('#000'));
label('(Hodell et al. 2005)', 686, 983, 'center', citeCss('#000'));

label('Laguna Yaloch', 293, 1219, 'center', nameCss('#1a2fa8'));
label('(Wahl et al. 2013)', 293, 1239, 'center', citeCss('#2438ad'));

label('Yok I', 666, 1525, 'center', nameCss('#8e3535'));
label('(Kennett et al. 2012)', 666, 1545, 'center', citeCss('#b5524f'));
</script>
</body></html>
